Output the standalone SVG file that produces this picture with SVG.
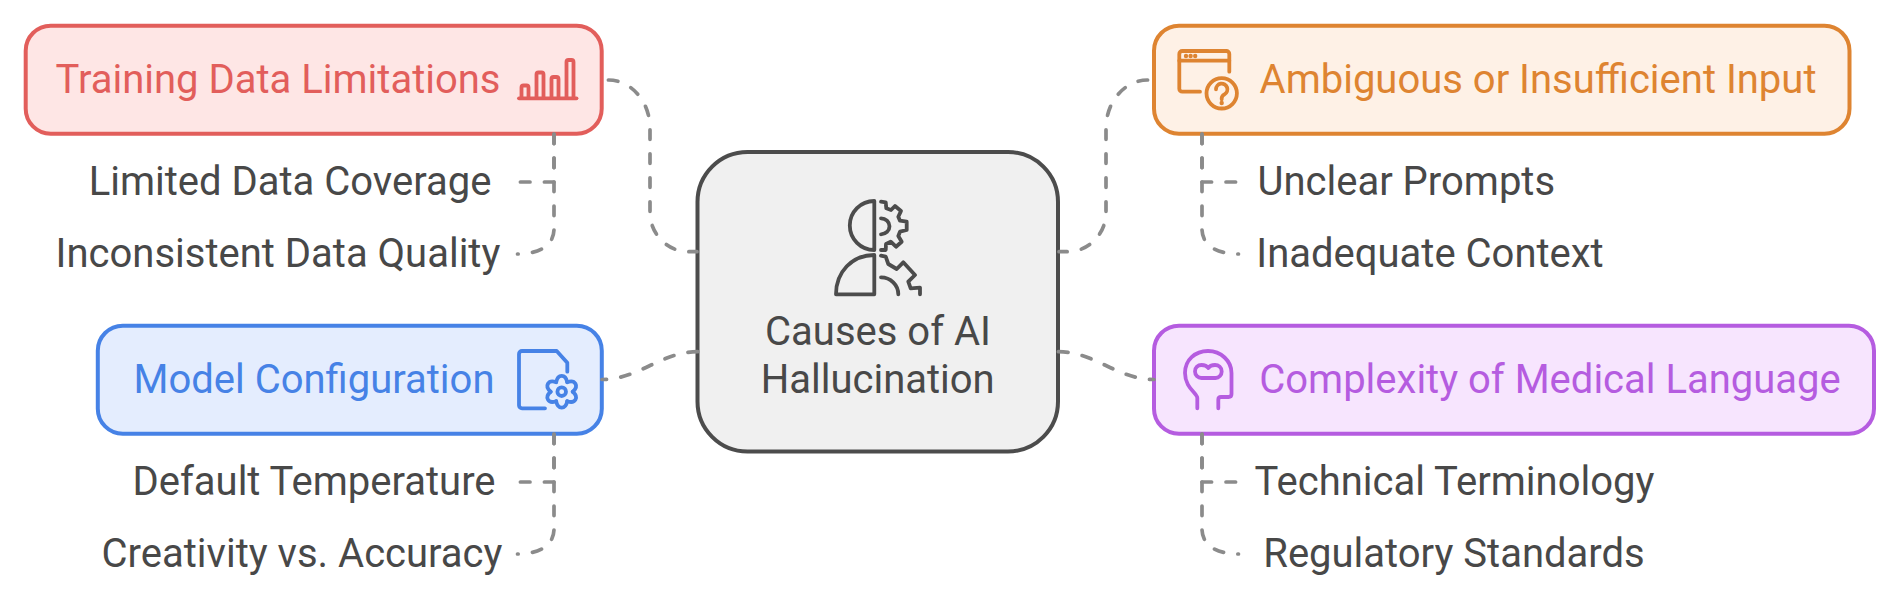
<svg xmlns="http://www.w3.org/2000/svg" width="1900" height="602" viewBox="0 0 1900 602">
<style>
text{font-family:Roboto,"Liberation Sans",sans-serif;font-size:40px;fill:#484848;text-anchor:middle}
.box{stroke-width:4}
.ic{fill:none;stroke-width:3.8;stroke-linecap:round;stroke-linejoin:round}
.con{fill:none;stroke:#8b8b8b;stroke-width:3.7;stroke-dasharray:9.6 14.4;stroke-linecap:round}
.red{stroke:#e25e5b}.redf{fill:#fee6e5}.redt{fill:#e25e5b}
.org{stroke:#de8431}.orgf{fill:#fef1e6}.orgt{fill:#de8431}
.blu{stroke:#4682e6}.bluf{fill:#e4edfe}.blut{fill:#4682e6}
.pur{stroke:#b55ce0}.purf{fill:#f7e5fe}.purt{fill:#b55ce0}
.gry{stroke:#4c4c4c}
</style>
<defs>
<path id="lobe" d="M-5.5 -9.53C-4 -18 4 -18 5.5 -9.53"/>
</defs>
<rect width="1900" height="602" fill="#fff"/>
<g id="center">
<rect class="box gry" x="697.5" y="152" width="360.5" height="299.5" rx="50" fill="#f0f0f0"/>
<g class="ic gry">
<path d="M874.3 201V250A24.5 24.5 0 0 1 874.3 201Z"/>
<path d="M874.3 255V294.3H836C836 272 852 255 874.3 255Z"/>
<path d="M881 201.7L885.7 202.3L886.3 208.3L891 210L895 206L901 211L898.3 216.7L900 220.7L906.7 221.7V230L900 231.7L898.3 236L901.7 241.7L896 246.7L890.7 241.7L886 244L885.7 250H881"/>
<path d="M881 218.3A8.5 8 0 0 1 881 234.3"/>
<path d="M881 255.7L885.7 256.7L888.3 264L896.7 269L903.3 262.3L915 275L908.3 281.7L910.7 288.3L920 287.7V294.3"/>
<path d="M881 277.3A17.3 17 0 0 1 898.3 294.3"/>
</g>
<text x="878" y="344.5">Causes of AI</text>
<text x="877.7" y="392.7">Hallucination</text>
</g>
<g id="training">
<rect class="box red redf" x="25.7" y="25.7" width="576" height="108" rx="25"/>
<text class="redt" x="278" y="92.5">Training Data Limitations</text>
<g class="ic red">
<path d="M519 98.3H576.5"/>
<path d="M521.5 98V87.5a2 2 0 0 1 2-2h3a2 2 0 0 1 2 2V98"/>
<path d="M536.5 98V74.5a2 2 0 0 1 2-2h3a2 2 0 0 1 2 2V98"/>
<path d="M551.5 98V79a2 2 0 0 1 2-2h3a2 2 0 0 1 2 2V98"/>
<path d="M566.5 98V62a2 2 0 0 1 2-2h3a2 2 0 0 1 2 2V98"/>
</g>
</g>
<g id="limited-coverage"><text x="290" y="195.3">Limited Data Coverage</text></g>
<g id="inconsistent-quality"><text x="278" y="267">Inconsistent Data Quality</text></g>
<g id="model">
<rect class="box blu bluf" x="97.8" y="325.7" width="504" height="108" rx="25"/>
<text class="blut" x="314" y="393">Model Configuration</text>
<g class="ic blu">
<path d="M545 408.3H522a3 3 0 0 1-3-3V354a3 3 0 0 1 3-3H556.7L567.3 362.7V371.7"/>
<circle cx="561.7" cy="391.7" r="4.3"/>
<g transform="translate(561.7 391.7)">
<use href="#lobe"/><use href="#lobe" transform="rotate(60)"/><use href="#lobe" transform="rotate(120)"/><use href="#lobe" transform="rotate(180)"/><use href="#lobe" transform="rotate(240)"/><use href="#lobe" transform="rotate(300)"/>
</g>
</g>
</g>
<g id="default-temperature"><text x="314" y="495.3">Default Temperature</text></g>
<g id="creativity-accuracy"><text x="302" y="567">Creativity vs. Accuracy</text></g>
<g id="ambiguous">
<rect class="box org orgf" x="1154" y="25.7" width="695.5" height="108" rx="25"/>
<text class="orgt" x="1538" y="92.5">Ambiguous or Insufficient Input</text>
<g class="ic org">
<path d="M1200 91.7H1182.3a3 3 0 0 1-3-3V54a3 3 0 0 1 3-3H1226.3a3 3 0 0 1 3 3V71.7"/>
<path d="M1179.3 60.7H1229.3"/>
<circle cx="1221.7" cy="93.3" r="15.2"/>
<path d="M1216 89.3a5.7 5.7 0 1 1 8.5 5q-2.8 1.5-2.8 4v1"/>
</g>
<g class="orgt"><circle cx="1186" cy="56" r="2.2"/><circle cx="1190.6" cy="56" r="2.2"/><circle cx="1195.2" cy="56" r="2.2"/><circle cx="1221.7" cy="103" r="2.2"/></g>
</g>
<g id="unclear-prompts"><text x="1406.3" y="195.3">Unclear Prompts</text></g>
<g id="inadequate-context"><text x="1430" y="267">Inadequate Context</text></g>
<g id="complexity">
<rect class="box pur purf" x="1154" y="325.7" width="720" height="108" rx="25"/>
<text class="purt" x="1550" y="393">Complexity of Medical Language</text>
<g class="ic pur">
<path d="M1197.3 408.3V398C1197.3 393 1185 388 1185 373C1185 360 1195 351 1208 351C1221 351 1231.5 361 1231.5 373V394q0 3-3 3H1221q-2.7 0-2.7 2.7V408.3"/>
<path d="M1201.5 378H1215.5C1219 378 1221.7 375 1221.7 371.5C1221.7 367.5 1218.5 365 1215 365C1212 365 1209.5 366 1208.3 368C1207 366 1204.5 365 1201.5 365C1198 365 1195 367.5 1195 371.5C1195 375 1198 378 1201.5 378Z"/>
</g>
</g>
<g id="technical-terminology"><text x="1454.5" y="495.3">Technical Terminology</text></g>
<g id="regulatory-standards"><text x="1454" y="567">Regulatory Standards</text></g>
<g id="connectors">
<path class="con" d="M608.4 80C631.3 80 650 101.7 650 128.3V212.5C650 233.6 667 251.7 688.3 251.7H697"/>
<path class="con" d="M554 134V182H519"/>
<path class="con" d="M554 134V229C554 245 540 254 517.5 254"/>
<path class="con" d="M697.6 351.7C661 351.7 639 379.5 602 379.5"/>
<path class="con" d="M554 434V482H519"/>
<path class="con" d="M554 434V529C554 545 540 554 517.5 554"/>
<path class="con" d="M1147.6 80C1124.7 80 1106 101.7 1106 128.3V212.5C1106 233.6 1089 251.7 1067.7 251.7H1059"/>
<path class="con" d="M1202 134V182H1237"/>
<path class="con" d="M1202 134V229C1202 245 1216 254 1238.5 254"/>
<path class="con" d="M1058.4 351.7C1095 351.7 1117 379.5 1154 379.5"/>
<path class="con" d="M1202 434V482H1237"/>
<path class="con" d="M1202 434V529C1202 545 1216 554 1238.5 554"/>
</g>
</svg>
